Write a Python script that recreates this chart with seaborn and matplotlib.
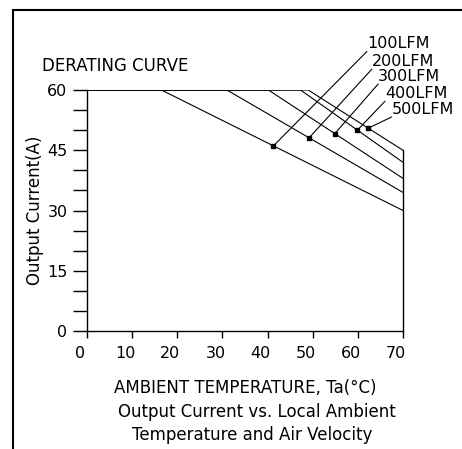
import numpy as np
import pandas as pd
import seaborn as sns
from matplotlib import pyplot as plt
from matplotlib.lines import Line2D
from matplotlib.transforms import ScaledTranslation

# derating curves
airflow = ["100LFM", "200LFM", "300LFM", "400LFM", "500LFM"]
knee_temp = [16.5, 31.0, 40.2, 47.3, 49.0]     # where derating starts (C)
end_current = [30.0, 34.5, 38.0, 42.0, 45.0]   # current at 70 C (A)
dot_temp = [41.3, 49.2, 54.9, 59.9, 62.3]
label_x = [62.0, 63.1, 64.5, 66.0, 67.5]
label_y = [69.6, 65.2, 61.5, 57.2, 53.3]
x_ticks = [0, 10, 20, 30, 40, 50, 60, 70]
y_ticks = [0, 15, 30, 45, 60]

rows = []
for name, k, e in zip(airflow, knee_temp, end_current):
    for t, c in [(0, 60), (k, 60), (70, e)]:
        rows.append({"temp": t, "current": c, "air": name})
df = pd.DataFrame(rows)

sns.set_theme(style="ticks")
plt.rcParams['font.family'] = ['DejaVu Sans']
plt.rcParams['text.color'] = 'black'

fig = plt.figure(figsize=(4.62, 4.49), dpi=100)
ax = fig.add_axes([0.1883, 0.2628, 0.684, 0.5367])

sns.lineplot(data=df, x="temp", y="current", units="air", estimator=None,
             color="black", linewidth=0.8, ax=ax, sort=False)

# dots on curves and leader lines to the labels
for name, k, e, dt, lx, ly in zip(airflow, knee_temp, end_current, dot_temp, label_x, label_y):
    dc = np.interp(dt, [0, k, 70], [60, 60, e])
    ax.plot([dt], [dc], marker="s", ms=3, color="black")
    ax.plot([dt, lx], [dc, ly], color="black", lw=0.8, clip_on=False)
    ax.text(lx, ly, name, ha="left", va="bottom", fontsize=11.5)

ax.set_xlim(0, 70)
ax.set_ylim(0, 60)
ax.set_xticks(x_ticks)
ax.set_yticks(y_ticks)
ax.set_yticks(np.arange(0, 61, 5), minor=True)
ax.tick_params(axis="x", direction="out", length=5, width=1, labelsize=11.5, pad=6, colors="black")
ax.tick_params(axis="y", which="both", direction="out", length=10, width=1, labelsize=11.5, pad=4, colors="black")
for lbl in ax.get_xticklabels():
    lbl.set_transform(lbl.get_transform() + ScaledTranslation(-7 / 100, 0, fig.dpi_scale_trans))

for s in ["left", "bottom", "right"]:
    ax.spines[s].set_color("black")
    ax.spines[s].set_linewidth(1)
ax.spines["top"].set_visible(False)
ax.spines["right"].set_bounds(0, 45)

ax.set_xlabel("AMBIENT TEMPERATURE, Ta(°C)", fontsize=12, labelpad=13)
ax.set_ylabel("Output Current(A)", fontsize=12, labelpad=2)
ax.xaxis.label.set_color("black")
ax.yaxis.label.set_color("black")

fig.text(42 / 462, 1 - 66 / 449, "DERATING CURVE", fontsize=12, va="center")
fig.text(257 / 462, 1 - 412 / 449, "Output Current vs. Local Ambient", fontsize=12, ha="center", va="center")
fig.text(252 / 462, 1 - 435 / 449, "Temperature and Air Velocity", fontsize=12, ha="center", va="center")

# drawing frame (top and left)
fig.add_artist(Line2D([13 / 462, 13 / 462], [0, 1 - 10 / 449], color="black", lw=1.5))
fig.add_artist(Line2D([13 / 462, 1], [1 - 10 / 449, 1 - 10 / 449], color="black", lw=1.5))

fig.savefig("out.png", dpi=100)
